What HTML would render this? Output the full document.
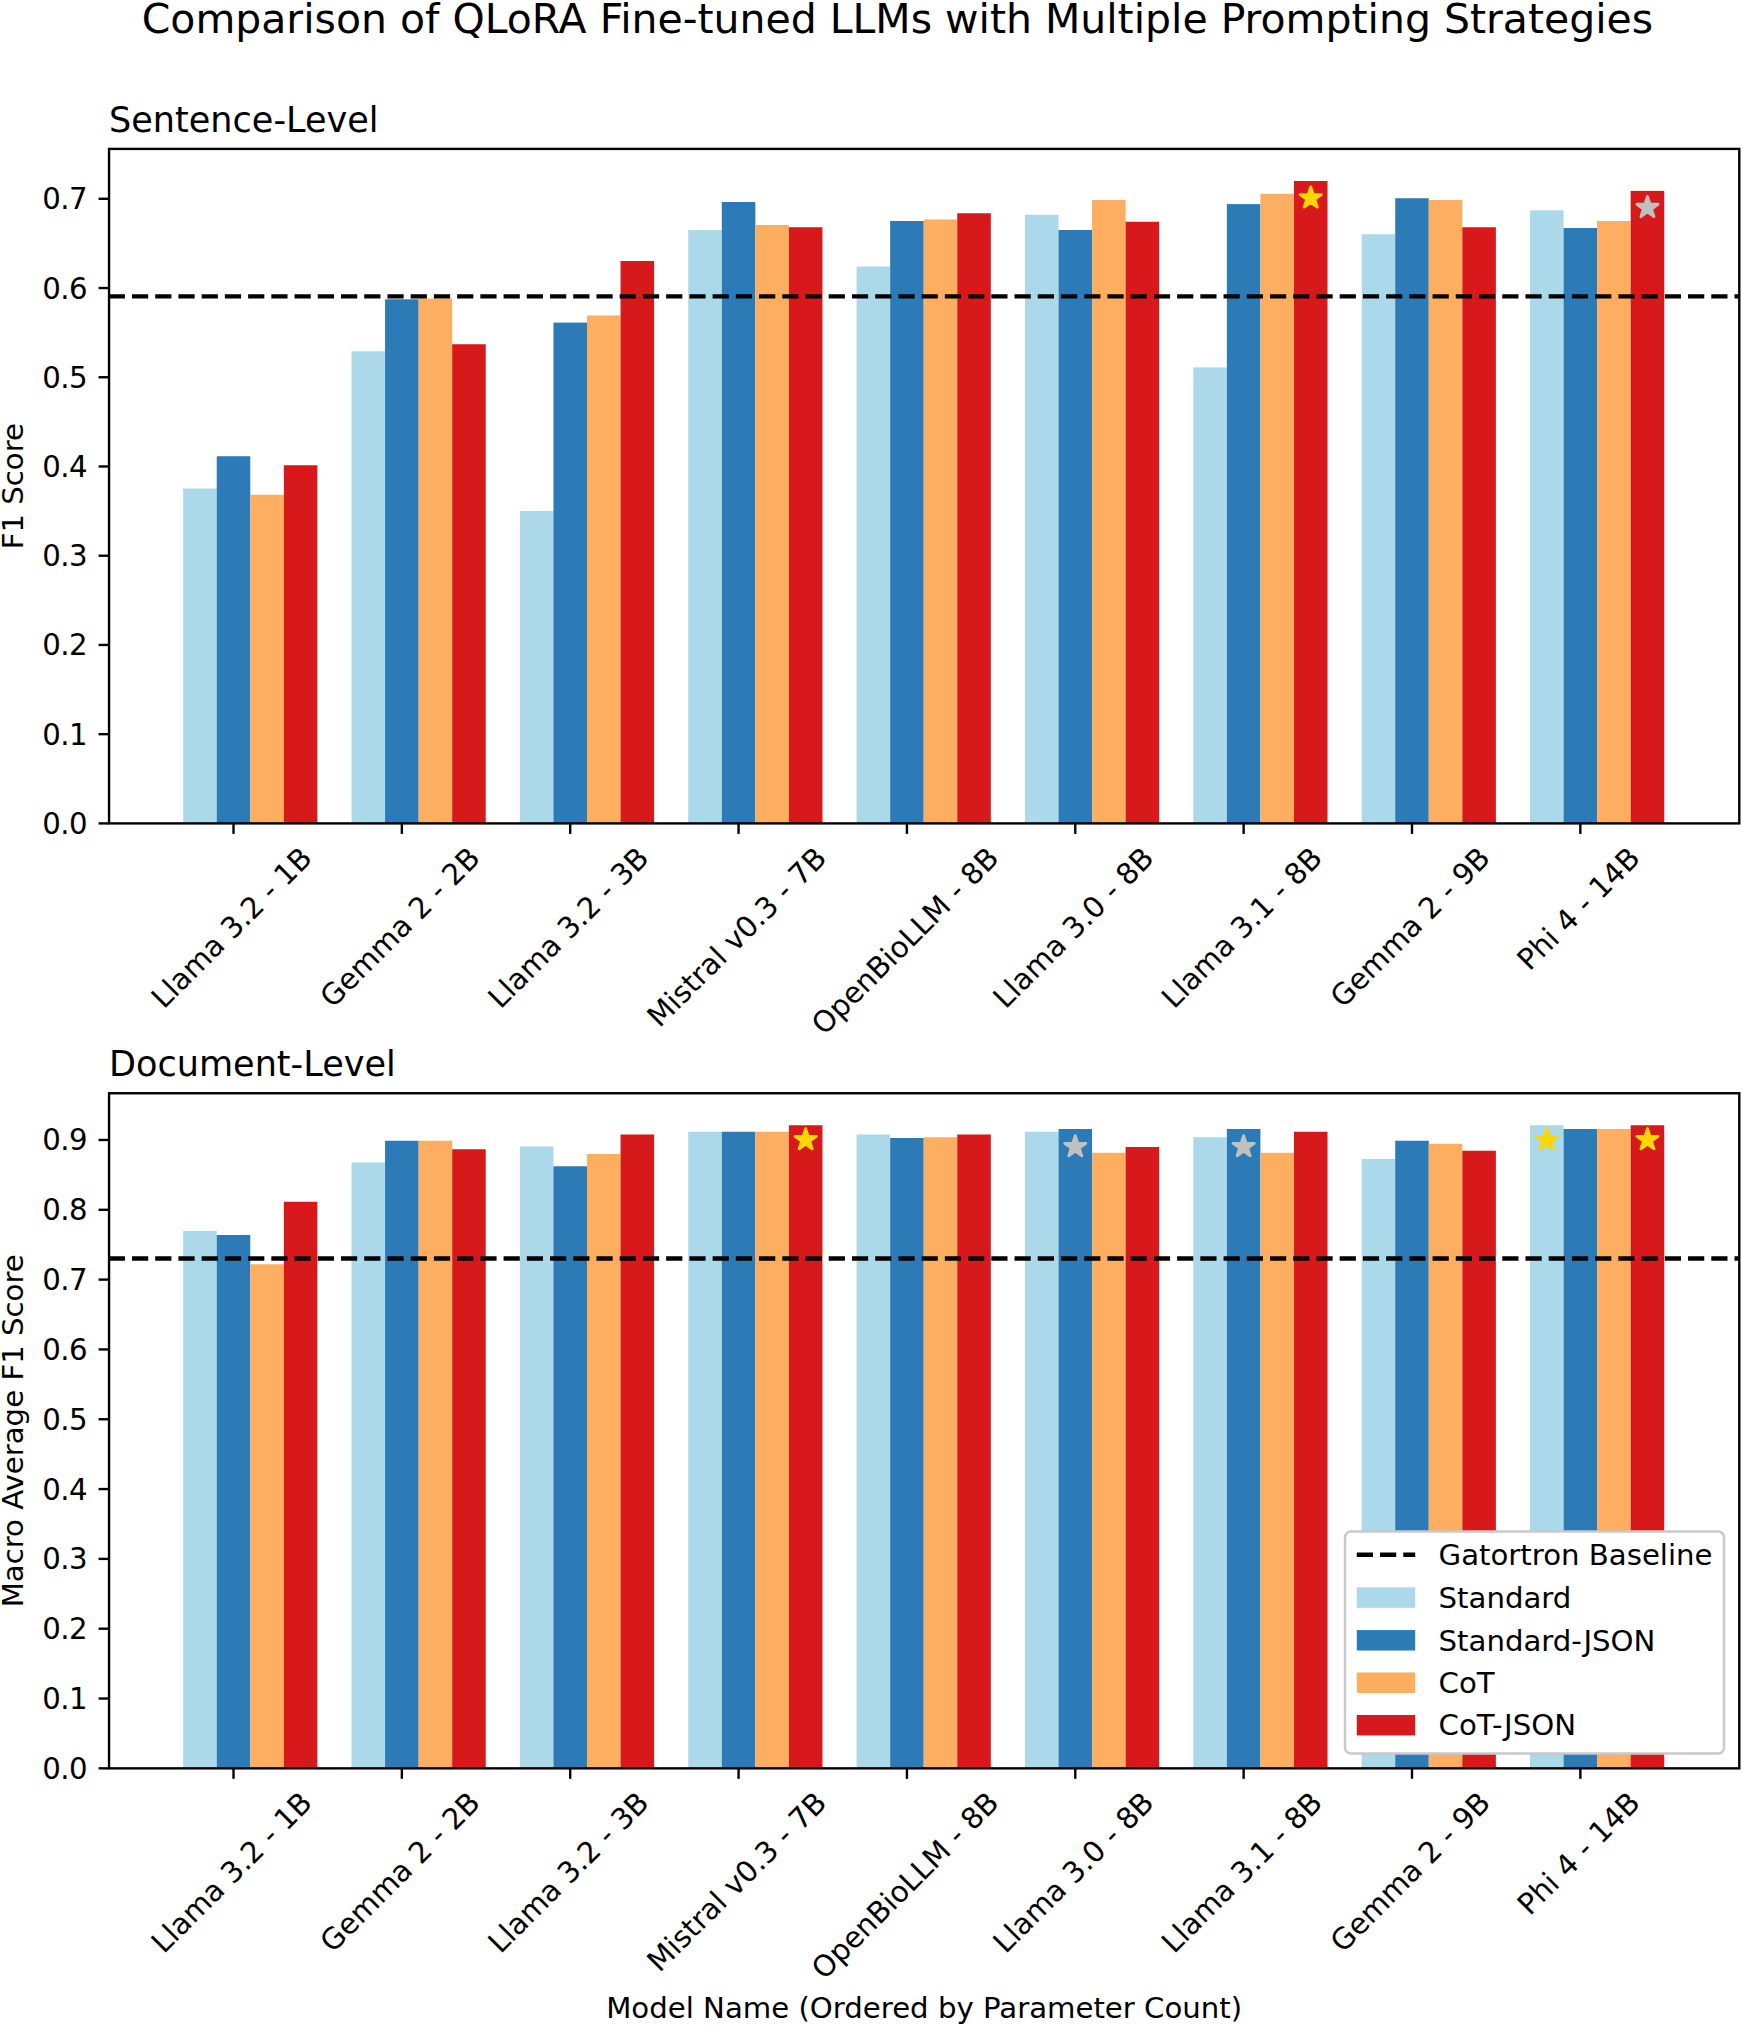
<!DOCTYPE html>
<html lang="en"><head><meta charset="utf-8"><title>Comparison of QLoRA Fine-tuned LLMs with Multiple Prompting Strategies</title>
<style>html,body{margin:0;padding:0;background:#fff}body{width:1743px;height:2027px;overflow:hidden}svg{display:block}text{font-family:"DejaVu Sans","Liberation Sans",sans-serif;fill:#000}</style></head><body>
<svg width="1743" height="2027" viewBox="0 0 1743 2027">
<rect x="0" y="0" width="1743" height="2027" fill="#ffffff"/>
<g>
<rect x="183.18" y="488.50" width="33.55" height="334.90" fill="#abd9e9"/>
<rect x="216.73" y="456.25" width="33.55" height="367.15" fill="#2c7bb6"/>
<rect x="250.28" y="494.75" width="33.55" height="328.65" fill="#fdae61"/>
<rect x="283.82" y="465.25" width="33.55" height="358.15" fill="#d7191c"/>
<rect x="351.53" y="351.25" width="33.55" height="472.15" fill="#abd9e9"/>
<rect x="385.08" y="299.25" width="33.55" height="524.15" fill="#2c7bb6"/>
<rect x="418.63" y="298.50" width="33.55" height="524.90" fill="#fdae61"/>
<rect x="452.18" y="344.25" width="33.55" height="479.15" fill="#d7191c"/>
<rect x="519.89" y="511.00" width="33.55" height="312.40" fill="#abd9e9"/>
<rect x="553.44" y="322.60" width="33.55" height="500.80" fill="#2c7bb6"/>
<rect x="586.99" y="315.50" width="33.55" height="507.90" fill="#fdae61"/>
<rect x="620.54" y="261.00" width="33.55" height="562.40" fill="#d7191c"/>
<rect x="688.24" y="230.00" width="33.55" height="593.40" fill="#abd9e9"/>
<rect x="721.79" y="202.00" width="33.55" height="621.40" fill="#2c7bb6"/>
<rect x="755.34" y="225.00" width="33.55" height="598.40" fill="#fdae61"/>
<rect x="788.89" y="227.25" width="33.55" height="596.15" fill="#d7191c"/>
<rect x="856.60" y="266.50" width="33.55" height="556.90" fill="#abd9e9"/>
<rect x="890.15" y="221.00" width="33.55" height="602.40" fill="#2c7bb6"/>
<rect x="923.70" y="219.50" width="33.55" height="603.90" fill="#fdae61"/>
<rect x="957.25" y="213.25" width="33.55" height="610.15" fill="#d7191c"/>
<rect x="1024.96" y="214.75" width="33.55" height="608.65" fill="#abd9e9"/>
<rect x="1058.51" y="230.00" width="33.55" height="593.40" fill="#2c7bb6"/>
<rect x="1092.06" y="200.00" width="33.55" height="623.40" fill="#fdae61"/>
<rect x="1125.61" y="221.75" width="33.55" height="601.65" fill="#d7191c"/>
<rect x="1193.31" y="367.40" width="33.55" height="456.00" fill="#abd9e9"/>
<rect x="1226.86" y="204.10" width="33.55" height="619.30" fill="#2c7bb6"/>
<rect x="1260.41" y="193.75" width="33.55" height="629.65" fill="#fdae61"/>
<rect x="1293.96" y="181.00" width="33.55" height="642.40" fill="#d7191c"/>
<rect x="1361.67" y="234.25" width="33.55" height="589.15" fill="#abd9e9"/>
<rect x="1395.22" y="198.25" width="33.55" height="625.15" fill="#2c7bb6"/>
<rect x="1428.77" y="200.00" width="33.55" height="623.40" fill="#fdae61"/>
<rect x="1462.32" y="227.25" width="33.55" height="596.15" fill="#d7191c"/>
<rect x="1530.02" y="210.30" width="33.55" height="613.10" fill="#abd9e9"/>
<rect x="1563.57" y="228.00" width="33.55" height="595.40" fill="#2c7bb6"/>
<rect x="1597.12" y="221.00" width="33.55" height="602.40" fill="#fdae61"/>
<rect x="1630.67" y="190.90" width="33.55" height="632.50" fill="#d7191c"/>
<line x1="109.05" y1="296.40" x2="1739.30" y2="296.40" stroke="#000" stroke-width="4.38" stroke-dasharray="16.21 7.015" stroke-dashoffset="0.3"/>
<polygon points="1310.74,187.00 1313.23,194.67 1321.29,194.67 1314.77,199.41 1317.26,207.08 1310.74,202.34 1304.21,207.08 1306.71,199.41 1300.18,194.67 1308.25,194.67" fill="#ffd700" stroke="#ffd700" stroke-width="2.90" stroke-linejoin="round"/>
<polygon points="1647.45,196.55 1649.94,204.22 1658.01,204.22 1651.48,208.96 1653.97,216.63 1647.45,211.89 1640.93,216.63 1643.42,208.96 1636.89,204.22 1644.96,204.22" fill="#c0c0c0" stroke="#c0c0c0" stroke-width="2.90" stroke-linejoin="round"/>
</g>
<rect x="109.05" y="148.90" width="1630.25" height="674.50" fill="none" stroke="#000" stroke-width="2.38" stroke-linejoin="miter"/>
<line x1="98.55" y1="823.40" x2="109.05" y2="823.40" stroke="#000" stroke-width="2.38"/>
<text transform="translate(42.17,833.90) scale(1,1.03)" font-size="29.20" letter-spacing="-0.5">0.0</text>
<line x1="98.55" y1="734.17" x2="109.05" y2="734.17" stroke="#000" stroke-width="2.38"/>
<text transform="translate(42.17,744.67) scale(1,1.03)" font-size="29.20" letter-spacing="-0.5">0.1</text>
<line x1="98.55" y1="644.94" x2="109.05" y2="644.94" stroke="#000" stroke-width="2.38"/>
<text transform="translate(42.17,655.44) scale(1,1.03)" font-size="29.20" letter-spacing="-0.5">0.2</text>
<line x1="98.55" y1="555.71" x2="109.05" y2="555.71" stroke="#000" stroke-width="2.38"/>
<text transform="translate(42.17,566.21) scale(1,1.03)" font-size="29.20" letter-spacing="-0.5">0.3</text>
<line x1="98.55" y1="466.48" x2="109.05" y2="466.48" stroke="#000" stroke-width="2.38"/>
<text transform="translate(42.17,476.98) scale(1,1.03)" font-size="29.20" letter-spacing="-0.5">0.4</text>
<line x1="98.55" y1="377.25" x2="109.05" y2="377.25" stroke="#000" stroke-width="2.38"/>
<text transform="translate(42.17,387.75) scale(1,1.03)" font-size="29.20" letter-spacing="-0.5">0.5</text>
<line x1="98.55" y1="288.02" x2="109.05" y2="288.02" stroke="#000" stroke-width="2.38"/>
<text transform="translate(42.17,298.52) scale(1,1.03)" font-size="29.20" letter-spacing="-0.5">0.6</text>
<line x1="98.55" y1="198.79" x2="109.05" y2="198.79" stroke="#000" stroke-width="2.38"/>
<text transform="translate(42.17,209.29) scale(1,1.03)" font-size="29.20" letter-spacing="-0.5">0.7</text>
<line x1="233.50" y1="823.40" x2="233.50" y2="833.90" stroke="#000" stroke-width="2.38"/>
<line x1="401.86" y1="823.40" x2="401.86" y2="833.90" stroke="#000" stroke-width="2.38"/>
<line x1="570.21" y1="823.40" x2="570.21" y2="833.90" stroke="#000" stroke-width="2.38"/>
<line x1="738.57" y1="823.40" x2="738.57" y2="833.90" stroke="#000" stroke-width="2.38"/>
<line x1="906.92" y1="823.40" x2="906.92" y2="833.90" stroke="#000" stroke-width="2.38"/>
<line x1="1075.28" y1="823.40" x2="1075.28" y2="833.90" stroke="#000" stroke-width="2.38"/>
<line x1="1243.64" y1="823.40" x2="1243.64" y2="833.90" stroke="#000" stroke-width="2.38"/>
<line x1="1411.99" y1="823.40" x2="1411.99" y2="833.90" stroke="#000" stroke-width="2.38"/>
<line x1="1580.35" y1="823.40" x2="1580.35" y2="833.90" stroke="#000" stroke-width="2.38"/>
<text transform="translate(163.79,1009.77) rotate(-45)" font-size="29.20">Llama 3.2 - 1B</text>
<text transform="translate(332.54,1008.99) rotate(-45)" font-size="29.20">Gemma 2 - 2B</text>
<text transform="translate(500.50,1009.77) rotate(-45)" font-size="29.20">Llama 3.2 - 3B</text>
<text transform="translate(659.44,1028.61) rotate(-45)" font-size="29.20">Mistral v0.3 - 7B</text>
<text transform="translate(823.99,1036.21) rotate(-45)" font-size="29.20">OpenBioLLM - 8B</text>
<text transform="translate(1005.57,1009.77) rotate(-45)" font-size="29.20">Llama 3.0 - 8B</text>
<text transform="translate(1173.93,1009.77) rotate(-45)" font-size="29.20">Llama 3.1 - 8B</text>
<text transform="translate(1342.67,1008.99) rotate(-45)" font-size="29.20">Gemma 2 - 9B</text>
<text transform="translate(1529.62,971.82) rotate(-45)" font-size="29.20">Phi 4 - 14B</text>
<text x="109.05" y="132.00" font-size="35.05">Sentence-Level</text>
<text transform="translate(22.8,486.15) rotate(-90)" font-size="29.20" text-anchor="middle">F1 Score</text>
<g>
<rect x="183.18" y="1231.00" width="33.55" height="537.35" fill="#abd9e9"/>
<rect x="216.73" y="1235.00" width="33.55" height="533.35" fill="#2c7bb6"/>
<rect x="250.28" y="1264.25" width="33.55" height="504.10" fill="#fdae61"/>
<rect x="283.82" y="1201.75" width="33.55" height="566.60" fill="#d7191c"/>
<rect x="351.53" y="1162.50" width="33.55" height="605.85" fill="#abd9e9"/>
<rect x="385.08" y="1140.75" width="33.55" height="627.60" fill="#2c7bb6"/>
<rect x="418.63" y="1140.75" width="33.55" height="627.60" fill="#fdae61"/>
<rect x="452.18" y="1149.25" width="33.55" height="619.10" fill="#d7191c"/>
<rect x="519.89" y="1146.50" width="33.55" height="621.85" fill="#abd9e9"/>
<rect x="553.44" y="1166.25" width="33.55" height="602.10" fill="#2c7bb6"/>
<rect x="586.99" y="1154.00" width="33.55" height="614.35" fill="#fdae61"/>
<rect x="620.54" y="1134.50" width="33.55" height="633.85" fill="#d7191c"/>
<rect x="688.24" y="1131.75" width="33.55" height="636.60" fill="#abd9e9"/>
<rect x="721.79" y="1131.75" width="33.55" height="636.60" fill="#2c7bb6"/>
<rect x="755.34" y="1131.75" width="33.55" height="636.60" fill="#fdae61"/>
<rect x="788.89" y="1125.25" width="33.55" height="643.10" fill="#d7191c"/>
<rect x="856.60" y="1134.50" width="33.55" height="633.85" fill="#abd9e9"/>
<rect x="890.15" y="1138.00" width="33.55" height="630.35" fill="#2c7bb6"/>
<rect x="923.70" y="1137.25" width="33.55" height="631.10" fill="#fdae61"/>
<rect x="957.25" y="1134.50" width="33.55" height="633.85" fill="#d7191c"/>
<rect x="1024.96" y="1131.75" width="33.55" height="636.60" fill="#abd9e9"/>
<rect x="1058.51" y="1129.00" width="33.55" height="639.35" fill="#2c7bb6"/>
<rect x="1092.06" y="1152.75" width="33.55" height="615.60" fill="#fdae61"/>
<rect x="1125.61" y="1147.00" width="33.55" height="621.35" fill="#d7191c"/>
<rect x="1193.31" y="1137.25" width="33.55" height="631.10" fill="#abd9e9"/>
<rect x="1226.86" y="1129.00" width="33.55" height="639.35" fill="#2c7bb6"/>
<rect x="1260.41" y="1152.75" width="33.55" height="615.60" fill="#fdae61"/>
<rect x="1293.96" y="1131.75" width="33.55" height="636.60" fill="#d7191c"/>
<rect x="1361.67" y="1159.00" width="33.55" height="609.35" fill="#abd9e9"/>
<rect x="1395.22" y="1140.75" width="33.55" height="627.60" fill="#2c7bb6"/>
<rect x="1428.77" y="1143.75" width="33.55" height="624.60" fill="#fdae61"/>
<rect x="1462.32" y="1150.75" width="33.55" height="617.60" fill="#d7191c"/>
<rect x="1530.02" y="1125.25" width="33.55" height="643.10" fill="#abd9e9"/>
<rect x="1563.57" y="1129.00" width="33.55" height="639.35" fill="#2c7bb6"/>
<rect x="1597.12" y="1129.00" width="33.55" height="639.35" fill="#fdae61"/>
<rect x="1630.67" y="1125.25" width="33.55" height="643.10" fill="#d7191c"/>
<line x1="109.05" y1="1258.45" x2="1739.30" y2="1258.45" stroke="#000" stroke-width="4.38" stroke-dasharray="16.21 7.015" stroke-dashoffset="0.3"/>
<polygon points="805.67,1128.75 808.16,1136.42 816.23,1136.42 809.70,1141.16 812.19,1148.83 805.67,1144.09 799.14,1148.83 801.64,1141.16 795.11,1136.42 803.18,1136.42" fill="#ffd700" stroke="#ffd700" stroke-width="2.90" stroke-linejoin="round"/>
<polygon points="1075.28,1135.75 1077.77,1143.42 1085.84,1143.42 1079.31,1148.16 1081.81,1155.83 1075.28,1151.09 1068.76,1155.83 1071.25,1148.16 1064.72,1143.42 1072.79,1143.42" fill="#c0c0c0" stroke="#c0c0c0" stroke-width="2.90" stroke-linejoin="round"/>
<polygon points="1243.64,1135.75 1246.13,1143.42 1254.19,1143.42 1247.67,1148.16 1250.16,1155.83 1243.64,1151.09 1237.11,1155.83 1239.61,1148.16 1233.08,1143.42 1241.15,1143.42" fill="#c0c0c0" stroke="#c0c0c0" stroke-width="2.90" stroke-linejoin="round"/>
<polygon points="1546.80,1128.75 1549.29,1136.42 1557.36,1136.42 1550.83,1141.16 1553.32,1148.83 1546.80,1144.09 1540.28,1148.83 1542.77,1141.16 1536.24,1136.42 1544.31,1136.42" fill="#ffd700" stroke="#ffd700" stroke-width="2.90" stroke-linejoin="round"/>
<polygon points="1647.45,1128.75 1649.94,1136.42 1658.01,1136.42 1651.48,1141.16 1653.97,1148.83 1647.45,1144.09 1640.93,1148.83 1643.42,1141.16 1636.89,1136.42 1644.96,1136.42" fill="#ffd700" stroke="#ffd700" stroke-width="2.90" stroke-linejoin="round"/>
</g>
<rect x="109.05" y="1093.25" width="1630.25" height="675.10" fill="none" stroke="#000" stroke-width="2.38" stroke-linejoin="miter"/>
<line x1="98.55" y1="1768.35" x2="109.05" y2="1768.35" stroke="#000" stroke-width="2.38"/>
<text transform="translate(42.17,1778.85) scale(1,1.03)" font-size="29.20" letter-spacing="-0.5">0.0</text>
<line x1="98.55" y1="1698.53" x2="109.05" y2="1698.53" stroke="#000" stroke-width="2.38"/>
<text transform="translate(42.17,1709.03) scale(1,1.03)" font-size="29.20" letter-spacing="-0.5">0.1</text>
<line x1="98.55" y1="1628.71" x2="109.05" y2="1628.71" stroke="#000" stroke-width="2.38"/>
<text transform="translate(42.17,1639.21) scale(1,1.03)" font-size="29.20" letter-spacing="-0.5">0.2</text>
<line x1="98.55" y1="1558.89" x2="109.05" y2="1558.89" stroke="#000" stroke-width="2.38"/>
<text transform="translate(42.17,1569.39) scale(1,1.03)" font-size="29.20" letter-spacing="-0.5">0.3</text>
<line x1="98.55" y1="1489.07" x2="109.05" y2="1489.07" stroke="#000" stroke-width="2.38"/>
<text transform="translate(42.17,1499.57) scale(1,1.03)" font-size="29.20" letter-spacing="-0.5">0.4</text>
<line x1="98.55" y1="1419.25" x2="109.05" y2="1419.25" stroke="#000" stroke-width="2.38"/>
<text transform="translate(42.17,1429.75) scale(1,1.03)" font-size="29.20" letter-spacing="-0.5">0.5</text>
<line x1="98.55" y1="1349.43" x2="109.05" y2="1349.43" stroke="#000" stroke-width="2.38"/>
<text transform="translate(42.17,1359.93) scale(1,1.03)" font-size="29.20" letter-spacing="-0.5">0.6</text>
<line x1="98.55" y1="1279.61" x2="109.05" y2="1279.61" stroke="#000" stroke-width="2.38"/>
<text transform="translate(42.17,1290.11) scale(1,1.03)" font-size="29.20" letter-spacing="-0.5">0.7</text>
<line x1="98.55" y1="1209.79" x2="109.05" y2="1209.79" stroke="#000" stroke-width="2.38"/>
<text transform="translate(42.17,1220.29) scale(1,1.03)" font-size="29.20" letter-spacing="-0.5">0.8</text>
<line x1="98.55" y1="1139.97" x2="109.05" y2="1139.97" stroke="#000" stroke-width="2.38"/>
<text transform="translate(42.17,1150.47) scale(1,1.03)" font-size="29.20" letter-spacing="-0.5">0.9</text>
<line x1="233.50" y1="1768.35" x2="233.50" y2="1778.85" stroke="#000" stroke-width="2.38"/>
<line x1="401.86" y1="1768.35" x2="401.86" y2="1778.85" stroke="#000" stroke-width="2.38"/>
<line x1="570.21" y1="1768.35" x2="570.21" y2="1778.85" stroke="#000" stroke-width="2.38"/>
<line x1="738.57" y1="1768.35" x2="738.57" y2="1778.85" stroke="#000" stroke-width="2.38"/>
<line x1="906.92" y1="1768.35" x2="906.92" y2="1778.85" stroke="#000" stroke-width="2.38"/>
<line x1="1075.28" y1="1768.35" x2="1075.28" y2="1778.85" stroke="#000" stroke-width="2.38"/>
<line x1="1243.64" y1="1768.35" x2="1243.64" y2="1778.85" stroke="#000" stroke-width="2.38"/>
<line x1="1411.99" y1="1768.35" x2="1411.99" y2="1778.85" stroke="#000" stroke-width="2.38"/>
<line x1="1580.35" y1="1768.35" x2="1580.35" y2="1778.85" stroke="#000" stroke-width="2.38"/>
<text transform="translate(163.84,1954.42) rotate(-45)" font-size="29.20">Llama 3.2 - 1B</text>
<text transform="translate(332.59,1953.64) rotate(-45)" font-size="29.20">Gemma 2 - 2B</text>
<text transform="translate(500.55,1954.42) rotate(-45)" font-size="29.20">Llama 3.2 - 3B</text>
<text transform="translate(659.49,1973.26) rotate(-45)" font-size="29.20">Mistral v0.3 - 7B</text>
<text transform="translate(824.04,1980.86) rotate(-45)" font-size="29.20">OpenBioLLM - 8B</text>
<text transform="translate(1005.62,1954.42) rotate(-45)" font-size="29.20">Llama 3.0 - 8B</text>
<text transform="translate(1173.98,1954.42) rotate(-45)" font-size="29.20">Llama 3.1 - 8B</text>
<text transform="translate(1342.72,1953.64) rotate(-45)" font-size="29.20">Gemma 2 - 9B</text>
<text transform="translate(1529.67,1916.47) rotate(-45)" font-size="29.20">Phi 4 - 14B</text>
<text x="109.05" y="1076.25" font-size="35.05">Document-Level</text>
<text transform="translate(23.3,1430.80) rotate(-90)" font-size="29.20" text-anchor="middle">Macro Average F1 Score</text>
<text x="924.17" y="2018.00" font-size="29.20" text-anchor="middle">Model Name (Ordered by Parameter Count)</text>
<text x="897.40" y="33.00" font-size="40.96" text-anchor="middle">Comparison of QLoRA Fine-tuned LLMs with Multiple Prompting Strategies</text>
<rect x="1345.00" y="1531.60" width="379.05" height="221.95" rx="5.8" ry="5.8" fill="#fff" stroke="#c9c9c9" stroke-width="2.50"/>
<line x1="1356.80" y1="1554.80" x2="1415.20" y2="1554.80" stroke="#000" stroke-width="4.38" stroke-dasharray="16.21 7.015"/>
<rect x="1356.80" y="1587.38" width="58.40" height="20.44" fill="#abd9e9"/>
<rect x="1356.80" y="1630.08" width="58.40" height="20.44" fill="#2c7bb6"/>
<rect x="1356.80" y="1672.48" width="58.40" height="20.44" fill="#fdae61"/>
<rect x="1356.80" y="1714.98" width="58.40" height="20.44" fill="#d7191c"/>
<text x="1438.56" y="1565.00" font-size="29.20">Gatortron Baseline</text>
<text x="1438.56" y="1607.80" font-size="29.20">Standard</text>
<text x="1438.56" y="1650.50" font-size="29.20">Standard-JSON</text>
<text x="1438.56" y="1692.90" font-size="29.20">CoT</text>
<text x="1438.56" y="1735.40" font-size="29.20">CoT-JSON</text>
</svg></body></html>
